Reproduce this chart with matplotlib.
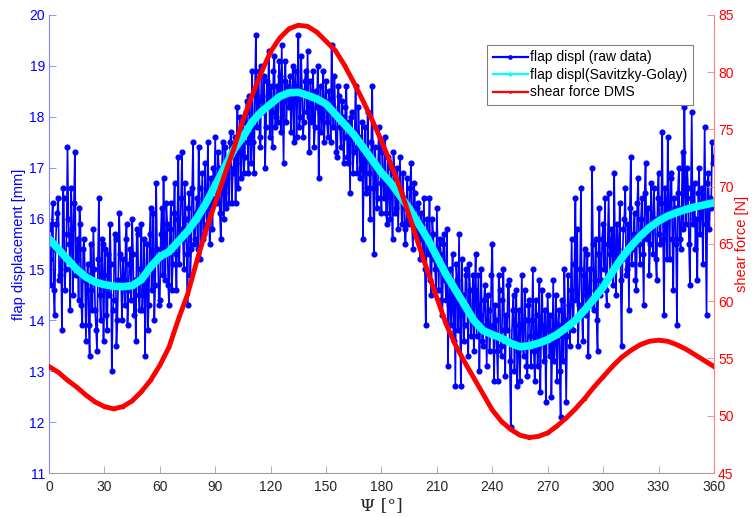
import numpy as np
import matplotlib
matplotlib.use('Agg')
import matplotlib.pyplot as plt

plt.rcParams['font.family'] = ['Liberation Sans', 'DejaVu Sans']

# raw flap signal, read at whole degrees (0..360)
flap_raw = [
    15.8, 14.7, 16.3, 14.1, 15.9, 16.4, 14.9, 13.8, 16.4, 15.0,
    17.4, 15.5, 16.6, 14.5, 17.3, 15.2, 14.4, 15.9, 13.9, 15.6,
    13.6, 15.1, 13.3, 14.6, 15.8, 14.2, 13.4, 16.4, 14.0, 15.5,
    14.9, 14.1, 15.3, 15.9, 13.0, 14.4, 15.6, 14.0, 16.1, 14.8,
    15.2, 14.3, 15.9, 14.6, 15.4, 16.0, 14.1, 13.6, 15.7, 14.2,
    15.9, 14.6, 13.3, 15.5, 14.3, 16.2, 15.0, 14.0, 16.7, 15.2,
    14.4, 16.2, 16.8, 14.8, 15.9, 14.3, 16.3, 15.1, 16.7, 14.6,
    17.2, 15.8, 17.3, 15.0, 16.0, 14.3, 16.5, 15.4, 17.5, 15.6,
    16.4, 17.4, 15.2, 16.9, 15.7, 16.2, 17.5, 15.5, 16.4, 17.0,
    17.6, 16.3, 17.0, 15.6, 17.5, 16.5, 16.2, 17.1, 17.5, 16.3,
    17.0, 16.3, 18.2, 17.4, 16.8, 17.9, 17.2, 18.3, 16.9, 17.8,
    18.9, 16.9, 19.6, 18.3, 17.6, 19.0, 18.1, 17.0, 18.7, 19.3,
    18.6, 17.4, 19.2, 18.0, 17.9, 18.8, 19.4, 17.1, 19.1, 18.4,
    18.2, 17.7, 19.0, 18.6, 17.6, 19.6, 18.0, 18.5, 17.9, 18.9,
    19.3, 17.3, 18.4, 18.9, 17.8, 18.2, 16.8, 18.6, 18.0, 17.5,
    18.7, 17.6, 18.3, 19.4, 17.8, 18.1, 17.2, 18.4, 17.4, 18.0,
    17.6, 18.6, 17.1, 16.5, 18.1, 17.3, 18.6, 16.9, 17.6, 17.0,
    15.6, 17.8, 16.6, 17.3, 16.0, 18.6, 15.3, 17.0, 16.4, 17.4,
    16.1, 16.8, 17.6, 15.9, 16.5, 17.0, 15.6, 16.9, 16.2, 15.8,
    17.2, 15.9, 16.4, 15.5, 16.8, 16.0, 17.1, 15.4, 16.5, 15.7,
    16.3, 15.2, 15.9, 16.4, 13.9, 15.6, 16.4, 14.5, 15.7, 15.0,
    16.2, 14.6, 15.3, 14.1, 15.7, 14.4, 13.1, 15.0, 14.2, 13.6,
    12.7, 14.8, 15.7, 12.7, 14.5, 13.9, 15.0, 13.3, 14.6, 14.0,
    13.4, 15.3, 14.3, 13.0, 15.0, 13.5, 14.7, 13.1, 14.2, 13.8,
    15.5, 12.8, 14.0, 12.8, 14.6, 13.3, 15.0, 12.9, 13.8, 14.8,
    11.9, 14.2, 13.0, 14.6, 13.4, 12.8, 14.9, 13.3, 14.0, 12.9,
    14.4, 13.1, 15.0, 12.8, 14.1, 13.5, 12.6, 14.6, 13.2, 12.4,
    14.5, 13.3, 12.5, 14.8, 13.6, 12.8, 14.2, 12.1, 13.7, 15.0,
    12.4, 14.9, 13.5, 15.6, 14.0, 16.4, 15.8, 14.3, 16.6, 13.6,
    15.4, 14.5, 13.3, 15.0, 17.0, 14.2, 15.6, 13.4, 16.2, 14.8,
    15.9, 16.4, 14.3, 16.5, 14.9, 15.6, 16.9, 14.5, 15.4, 16.3,
    13.5, 15.8, 16.6, 15.0, 14.2, 17.2, 15.4, 16.1, 14.6, 16.8,
    15.1, 16.4, 14.3, 17.1, 15.8, 14.9, 16.7, 15.3, 16.0, 14.8,
    16.9, 15.5, 17.7, 14.1, 16.3, 17.6, 15.2, 16.8, 14.6, 16.2,
    13.9, 17.0, 15.4, 17.3, 18.2, 15.9, 16.6, 14.7, 18.1, 16.0,
    15.4, 14.8, 17.0, 16.2, 15.1, 17.8, 14.1, 16.9, 16.4, 17.5,
    17.2,
]
# raw flap signal at the half degrees (0.5..359.5)
flap_raw_half = [
    15.2, 15.9, 14.6, 15.4, 16.1, 14.8, 15.3, 16.6, 14.6, 15.7,
    16.0, 14.2, 15.8, 16.3, 14.9, 15.6, 16.2, 14.3, 15.4, 14.8,
    14.9, 13.9, 15.5, 14.2, 15.0, 13.8, 15.2, 14.5, 15.6, 13.6,
    15.4, 13.8, 14.5, 15.1, 14.2, 15.7, 13.5, 14.8, 15.3, 14.0,
    14.8, 15.6, 13.9, 15.1, 14.4, 15.3, 14.8, 15.8, 14.5, 15.0,
    14.2, 15.6, 14.8, 13.8, 15.7, 14.6, 16.1, 14.7, 15.4, 14.3,
    15.7, 14.9, 15.4, 16.3, 14.7, 15.8, 14.6, 16.1, 15.3, 16.0,
    15.1, 16.4, 15.6, 16.7, 15.3, 16.2, 14.9, 16.6, 15.5, 16.1,
    15.4, 16.6, 16.1, 15.6, 17.1, 15.9, 16.3, 16.8, 15.8, 16.6,
    16.4, 17.3, 16.1, 16.8, 16.0, 17.4, 16.8, 16.3, 17.7, 16.9,
    17.6, 17.1, 16.6, 18.0, 17.3, 16.9, 18.1, 17.5, 18.4, 17.1,
    17.5, 18.5, 17.8, 18.9, 17.4, 18.4, 18.8, 17.8, 18.2, 17.6,
    18.1, 18.9, 17.8, 18.6, 19.1, 17.7, 18.3, 18.7, 17.9, 18.6,
    18.8, 18.3, 17.5, 18.9, 18.4, 17.8, 19.2, 17.6, 18.7, 18.1,
    18.0, 18.7, 17.9, 17.4, 18.5, 19.0, 18.1, 17.7, 18.9, 18.3,
    17.9, 18.5, 17.5, 18.2, 18.8, 17.3, 18.6, 17.8, 18.3, 17.1,
    18.2, 17.2, 17.9, 18.0, 16.9, 17.7, 17.4, 18.2, 16.8, 17.9,
    17.1, 16.5, 18.1, 16.9, 17.5, 16.6, 17.4, 16.2, 17.8, 16.7,
    17.3, 16.4, 16.1, 17.2, 16.0, 16.6, 17.3, 16.1, 17.0, 16.5,
    16.5, 16.9, 15.8, 16.2, 15.9, 16.6, 15.9, 16.7, 15.8, 16.2,
    15.6, 16.1, 15.2, 15.0, 16.0, 15.3, 14.8, 16.0, 15.2, 14.6,
    15.4, 15.6, 14.4, 15.5, 14.8, 15.8, 14.3, 13.9, 15.3, 14.7,
    15.1, 13.8, 14.1, 15.2, 13.6, 14.9, 14.2, 15.1, 13.7, 14.9,
    14.6, 13.7, 14.9, 14.1, 13.6, 14.4, 13.9, 14.5, 13.4, 14.9,
    13.9, 14.3, 13.4, 14.9, 13.5, 14.4, 13.8, 14.1, 14.7, 13.2,
    13.6, 14.5, 13.9, 12.7, 14.2, 13.9, 13.5, 14.6, 13.1, 14.3,
    13.7, 14.0, 13.4, 14.4, 13.1, 14.8, 13.9, 13.6, 14.2, 13.8,
    13.8, 14.1, 13.5, 13.2, 14.5, 13.9, 13.0, 14.4, 13.2, 14.0,
    13.7, 14.3, 14.6, 13.8, 15.1, 14.4, 13.5, 15.0, 14.2, 14.9,
    14.1, 15.3, 14.6, 14.3, 15.5, 14.8, 14.0, 15.3, 14.5, 15.6,
    15.0, 14.6, 15.5, 15.3, 15.8, 14.7, 15.3, 15.9, 15.1, 14.8,
    15.2, 16.0, 14.9, 15.9, 16.2, 15.1, 15.7, 14.8, 16.3, 15.5,
    16.0, 15.3, 16.5, 15.6, 16.2, 15.5, 15.9, 16.6, 15.2, 16.4,
    15.7, 16.3, 15.6, 16.6, 15.2, 16.1, 16.9, 15.6, 16.4, 15.5,
    16.5, 15.6, 16.2, 15.8, 16.5, 17.0, 15.5, 16.4, 15.9, 16.7,
    16.0, 16.5, 15.7, 16.6, 16.3, 15.9, 16.7, 15.8, 16.2, 17.1,
]

# smoothed curve and strain gauge signal, 5 deg steps
psi_5 = np.arange(0, 361, 5)
flap_sg = [
    15.6, 15.4, 15.2, 15.0, 14.85, 14.75, 14.7, 14.67, 14.66, 14.68,
    14.8, 15.05, 15.25, 15.35, 15.55, 15.75, 16.0, 16.3, 16.65, 17.0,
    17.35, 17.6, 17.9, 18.1, 18.25, 18.4, 18.47, 18.48, 18.42, 18.35,
    18.25, 18.05, 17.85, 17.65, 17.4, 17.15, 16.9, 16.7, 16.45, 16.2,
    15.9, 15.6, 15.25, 14.9, 14.6, 14.3, 14.0, 13.8, 13.72, 13.65,
    13.55, 13.48, 13.5, 13.55, 13.62, 13.72, 13.85, 14.0, 14.2, 14.42,
    14.65, 14.95, 15.22, 15.45, 15.65, 15.82, 15.95, 16.05, 16.12, 16.18,
    16.23, 16.27, 16.31,
]
shear_dms = [
    54.3, 53.8, 53.1, 52.5, 51.8, 51.2, 50.8, 50.6, 50.8, 51.3,
    52.1, 53.1, 54.4, 56.0, 58.4, 60.6, 63.5, 66.2, 68.6, 71.0,
    73.3, 75.8, 78.0, 80.0, 81.8, 83.0, 83.8, 84.1, 84.0, 83.5,
    82.7, 81.9, 80.6, 79.1, 77.5, 75.8, 74.0, 72.0, 69.9, 67.5,
    65.0, 62.6, 60.3, 58.0, 56.2, 54.7, 53.3, 51.9, 50.5, 49.5,
    48.8, 48.3, 48.1, 48.2, 48.5, 49.1, 49.8, 50.6, 51.5, 52.5,
    53.4, 54.3, 55.1, 55.7, 56.2, 56.5, 56.6, 56.5, 56.2, 55.8,
    55.3, 54.8, 54.3,
]

# put whole and half degree samples back in order
psi_raw = np.arange(0, 360.5, 0.5)
flap = np.empty(len(psi_raw))
flap[0::2] = flap_raw
flap[1::2] = flap_raw_half

fig = plt.figure(figsize=(7.53, 5.17), dpi=100)
ax1 = fig.add_axes([0.0651, 0.0851, 0.883, 0.886])
ax2 = ax1.twinx()

l1, = ax1.plot(psi_raw, flap, '-o', color='#0000ff', lw=1.2, ms=3.4,
               label='flap displ (raw data)')
l2, = ax1.plot(psi_5, flap_sg, '-*', color='#00ffff', lw=5.5, ms=4,
               label='flap displ(Savitzky-Golay)')
l3, = ax2.plot(psi_5, shear_dms, color='#ff0000', lw=3.5, marker='.', ms=3,
               label='shear force DMS')

ax1.set_xlim(0, 360)
ax1.set_xticks(np.arange(0, 361, 30))
ax1.set_ylim(11, 20)
ax1.set_yticks(np.arange(11, 21, 1))
ax2.set_ylim(45, 85)
ax2.set_yticks(np.arange(45, 86, 5))

# matlab like axes: no box, ticks inside
for a in (ax1, ax2):
    a.spines['top'].set_visible(False)
    a.tick_params(direction='in', length=5, width=0.6, labelsize=10)
ax1.spines['right'].set_visible(False)
ax1.spines['left'].set_color('#8080ff')
ax2.spines['left'].set_visible(False)
ax2.spines['bottom'].set_visible(False)
ax2.spines['right'].set_color('#ff8080')
ax1.spines['bottom'].set_color('#a0a0a0')
ax1.tick_params(axis='y', colors='#8080ff', labelcolor='#0000ff', pad=3)
ax1.tick_params(axis='x', colors='#a0a0a0', labelcolor='#262626', pad=5)
ax2.tick_params(axis='y', colors='#ff8080', labelcolor='#ff0000', pad=3)

ax1.set_xlabel('Ψ [°]', fontsize=12.5, color='#262626',
               family=['DejaVu Serif'], labelpad=2)
ax1.set_ylabel('flap displacement [mm]', fontsize=10.5, color='#0000ff', labelpad=2)
ax2.set_ylabel('shear force [N]', fontsize=10.5, color='#ff0000', labelpad=1)

leg = ax2.legend(handles=[l1, l2, l3], loc='upper right',
                 bbox_to_anchor=(0.968, 0.9345), borderaxespad=0,
                 fontsize=10, fancybox=False, framealpha=1,
                 edgecolor='#808080', handlelength=2.5, handletextpad=0.15,
                 borderpad=0.4, labelspacing=0.25, markerscale=0.7)
leg.get_frame().set_linewidth(0.8)
for h in leg.legend_handles:
    h.set_linewidth(1.6)

fig.savefig('out.png', dpi=100)
